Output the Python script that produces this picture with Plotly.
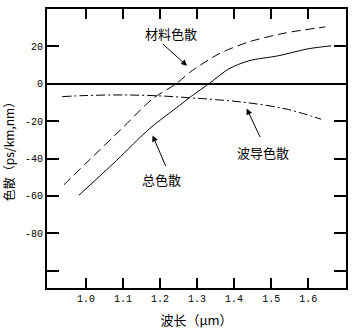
import plotly.graph_objects as go

# Wavelength (um) and dispersion (ps/km.nm) for the three curves
material_x = [0.941, 1.0, 1.1, 1.18, 1.244, 1.279, 1.359, 1.44, 1.539, 1.646]
material_y = [-54.0, -42.6, -23.4, -8.0, 0.0, 5.9, 16.0, 22.4, 27.2, 30.4]

total_x = [0.981, 1.083, 1.172, 1.252, 1.279, 1.332, 1.386, 1.44, 1.52, 1.60, 1.662]
total_y = [-59.7, -41.0, -24.0, -11.7, -7.5, 0.0, 8.0, 12.3, 15.0, 18.7, 20.3]

waveguide_x = [0.936, 1.0, 1.1, 1.2, 1.279, 1.35, 1.43, 1.54, 1.635]
waveguide_y = [-6.9, -6.3, -6.0, -6.5, -7.5, -8.5, -10.0, -13.5, -19.0]

x_ticks = [1.0, 1.1, 1.2, 1.3, 1.4, 1.5, 1.6]
x_ticktext = ["1.0", "1.1", "1.2", "1.3", "1.4", "1.5", "1.6"]
y_ticks = [20, 0, -20, -40, -60, -80, -100]
y_ticktext = ["20", "0", "-20", "-40", "-60", "-80", ""]

# label text, label position, arrow tail, arrow head
labels = [
    ("材料色散", (1.230, 26.7), (1.204, 21.9), (1.273, 9.6)),
    ("波导色散", (1.477, -36.8), (1.472, -29.3), (1.434, -13.3)),
    ("总色散", (1.203, -51.2), (1.217, -44.8), (1.18, -27.7)),
]

cjk = "Noto Sans CJK SC"
tickfont = dict(family="Liberation Mono", size=10, color="black")

fig = go.Figure()
fig.add_trace(go.Scatter(x=material_x, y=material_y, mode="lines", line_shape="spline",
                         line=dict(color="black", width=1, dash="9px,5px", smoothing=0.8)))
fig.add_trace(go.Scatter(x=total_x, y=total_y, mode="lines", line_shape="spline",
                         line=dict(color="black", width=1, smoothing=0.8)))
fig.add_trace(go.Scatter(x=waveguide_x, y=waveguide_y, mode="lines", line_shape="spline",
                         line=dict(color="black", width=1, dash="9px,3px,2px,3px")))

for text, (tx, ty), (ax, ay), (hx, hy) in labels:
    fig.add_annotation(x=tx, y=ty, text=text, showarrow=False,
                       font=dict(family=cjk, size=13, color="black"))
    fig.add_annotation(x=hx, y=hy, ax=ax, ay=ay, xref="x", yref="y",
                       axref="x", ayref="y", text="", showarrow=True,
                       arrowhead=2, arrowsize=1.2, arrowwidth=1, arrowcolor="black")

fig.update_layout(
    width=355, height=336,
    margin=dict(l=47, r=7, t=8, b=48),
    paper_bgcolor="white", plot_bgcolor="white",
    showlegend=False,
    xaxis=dict(range=[0.895, 1.702], tickvals=x_ticks, ticktext=x_ticktext,
               ticks="inside", ticklen=10, tickwidth=1.5, tickcolor="black",
               showline=True, linecolor="black", linewidth=2, mirror="ticks",
               showgrid=False, zeroline=False, tickfont=tickfont,
               title=dict(text="波长（μm）", font=dict(family=cjk, size=13, color="black"),
                          standoff=12)),
    yaxis=dict(range=[-109.3, 40], tickvals=y_ticks, ticktext=y_ticktext,
               ticks="inside", ticklen=12, tickwidth=1.5, tickcolor="black",
               showline=True, linecolor="black", linewidth=2, mirror="ticks",
               showgrid=False, zeroline=True, zerolinecolor="black", zerolinewidth=1.5,
               tickfont=tickfont,
               title=dict(text="色散（ps/km,nm）", font=dict(family=cjk, size=12, color="black"),
                          standoff=8)),
)

fig.write_html("out.html")
